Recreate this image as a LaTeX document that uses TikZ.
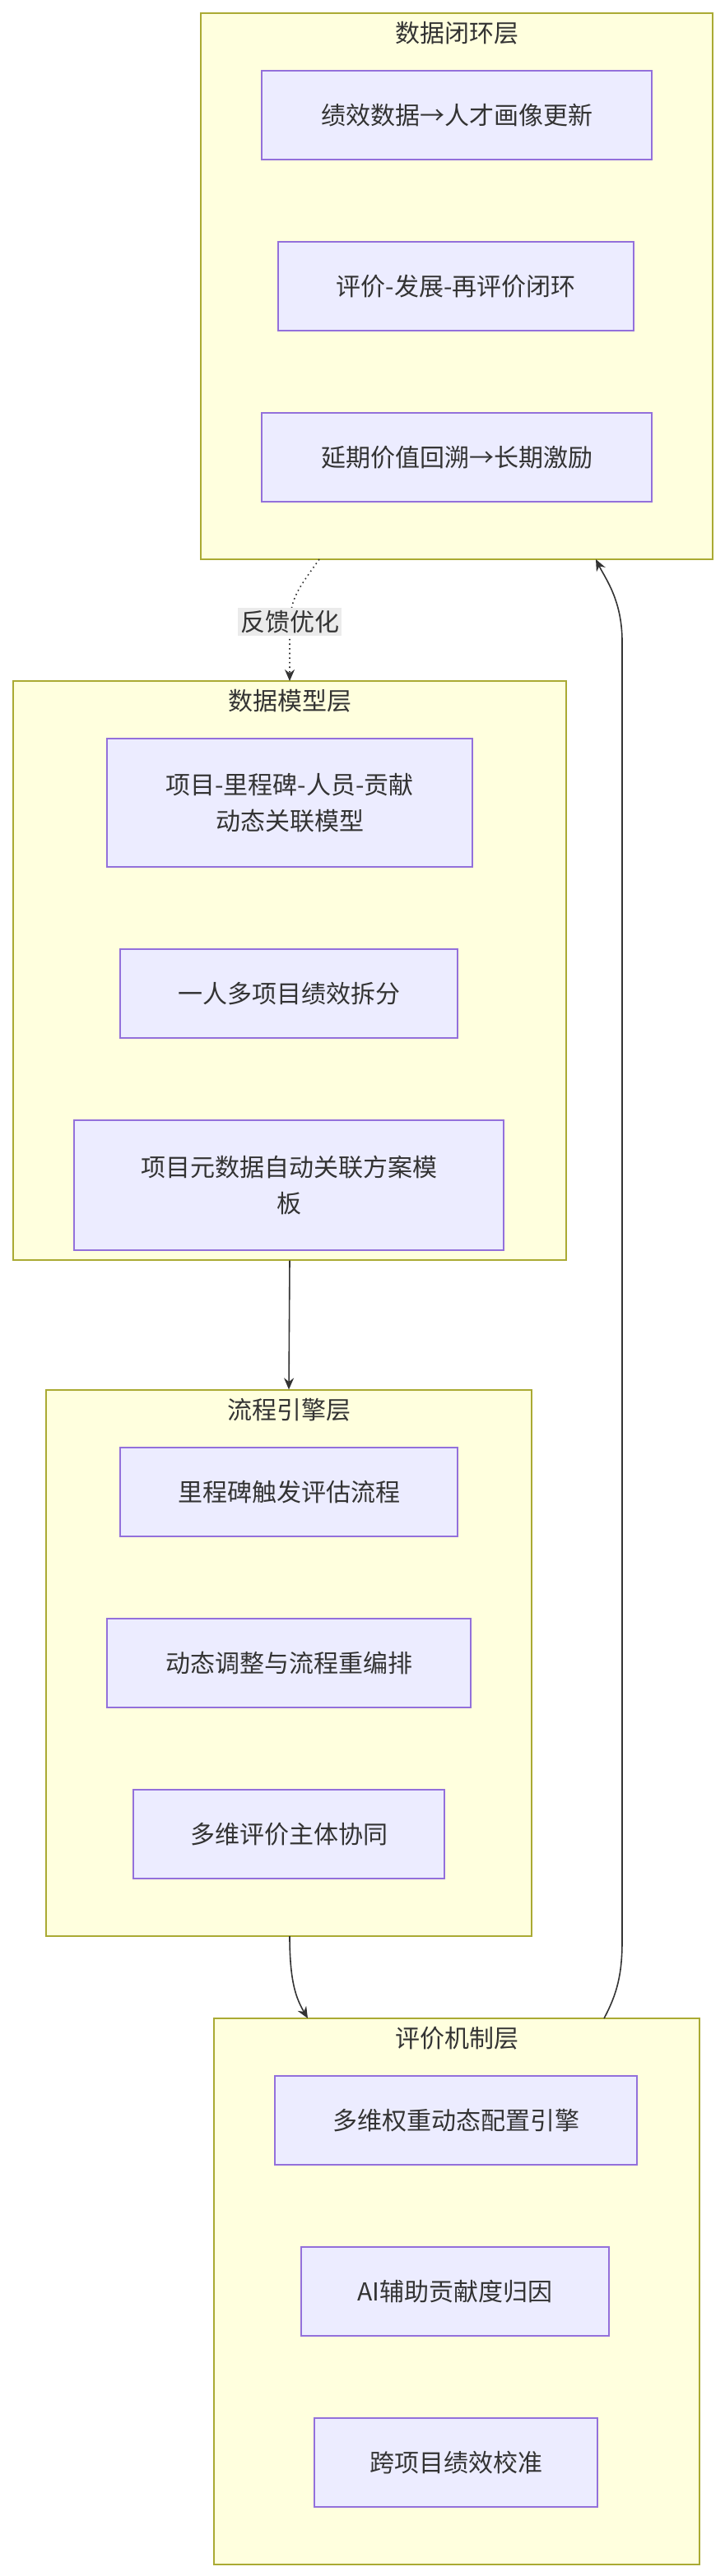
\documentclass[tikz,border=0pt]{standalone}
\usepackage{fontspec}
\setmainfont{Noto Sans CJK SC}
\usetikzlibrary{arrows.meta}
\definecolor{clfill}{HTML}{FFFFDE}
\definecolor{clline}{HTML}{AAAA33}
\definecolor{ndfill}{HTML}{ECECFF}
\definecolor{ndline}{HTML}{9370DB}
\definecolor{txt}{HTML}{333333}
\begin{document}
\begin{tikzpicture}[x=1pt,y=-1pt,
  cl/.style={draw=clline,fill=clfill,line width=0.6pt,inner sep=0pt},
  nd/.style={draw=ndline,fill=ndfill,line width=0.6pt,inner sep=0pt,align=center,text=txt,font=\fontsize{15}{22}\selectfont},
  ttl/.style={text=txt,font=\fontsize{15}{18}\selectfont},
  ed/.style={draw=txt,line width=0.8pt,-{Stealth[length=7pt,width=6pt]}}]
\useasboundingbox (0,0) rectangle (440,1566);
% clusters
\node[cl,minimum width=311,minimum height=332] (c1) at (277.5,174) {};
\node[ttl] (t1) at (277.5,20) {数据闭环层};
\node[cl,minimum width=336,minimum height=352] (c2) at (176,590) {};
\node[ttl] (t2) at (176,426) {数据模型层};
\node[cl,minimum width=295,minimum height=332] (c3) at (175.5,1011) {};
\node[ttl] (t3) at (175.5,857) {流程引擎层};
\node[cl,minimum width=295,minimum height=332] (c4) at (277.5,1393) {};
\node[ttl] (t4) at (277.5,1239) {评价机制层};
% nodes
\node[nd,minimum width=237,minimum height=54] (a1) at (277.5,70) {绩效数据→人才画像更新};
\node[nd,minimum width=216,minimum height=54] (a2) at (277,174) {评价-发展-再评价闭环};
\node[nd,minimum width=237,minimum height=54] (a3) at (277.5,278) {延期价值回溯→长期激励};
\node[nd,minimum width=222,minimum height=78] (b1) at (176,488) {项目-里程碑-人员-贡献\\动态关联模型};
\node[nd,minimum width=205,minimum height=54] (b2) at (175.5,604) {一人多项目绩效拆分};
\node[nd,minimum width=261,minimum height=79] (b3) at (175.5,720.5) {项目元数据自动关联方案模\\板};
\node[nd,minimum width=205,minimum height=54] (d1) at (175.5,907) {里程碑触发评估流程};
\node[nd,minimum width=221,minimum height=54] (d2) at (175.5,1011) {动态调整与流程重编排};
\node[nd,minimum width=189,minimum height=54] (d3) at (175.5,1115) {多维评价主体协同};
\node[nd,minimum width=220,minimum height=54] (e1) at (277,1289) {多维权重动态配置引擎};
\node[nd,minimum width=187,minimum height=54] (e2) at (276.5,1393) {AI辅助贡献度归因};
\node[nd,minimum width=172,minimum height=54] (e3) at (277,1497) {跨项目绩效校准};
% edges
\coordinate (p1) at (194,340);
\coordinate (p2) at (176,414);
\draw[ed,dotted] (p1) .. controls (176,365) .. (176,395) -- (p2);
\node[fill=black!8,inner sep=1.5pt,text=txt,font=\fontsize{15}{18}\selectfont] (lb) at (176,378) {反馈优化};
\draw[ed] (c2.south) -- (c3.north);
\coordinate (q1) at (176,1177);
\coordinate (q2) at (187,1227);
\draw[ed] (q1) .. controls (176,1205) and (180,1215) .. (q2);
\coordinate (r1) at (367,1227);
\coordinate (r2) at (362,340);
\draw[ed] (r1) .. controls (375,1212) and (378,1200) .. (378,1180) -- (378,390) .. controls (378,365) and (368,352) .. (r2);
\end{tikzpicture}
\end{document}
